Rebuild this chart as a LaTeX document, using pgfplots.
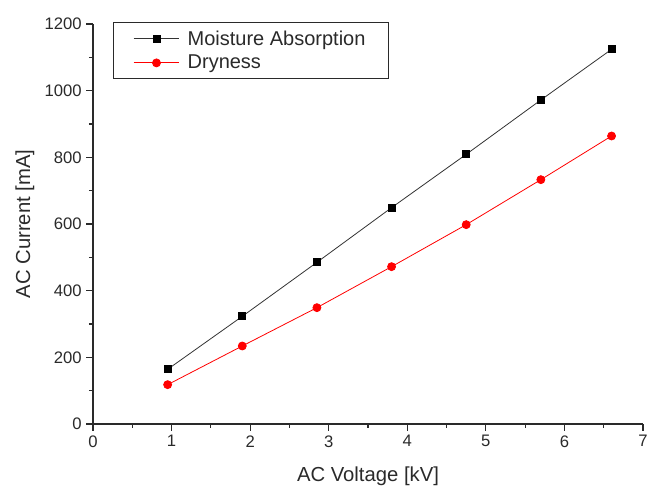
\documentclass[border=0pt]{standalone}
\usepackage{fontspec}
\setmainfont{Liberation Sans}
\usepackage{pgfplots}
\pgfplotsset{compat=1.18}
\definecolor{txt}{HTML}{2A2A2A}
\begin{document}
\begin{tikzpicture}
\begin{axis}[
  scale only axis,
  width=412.5pt, height=300pt,
  xmin=0, xmax=7, ymin=0, ymax=1200,
  axis lines*=left,
  axis line style={txt, line width=0.8pt},
  xtick={0,1,...,7}, ytick={0,200,...,1200},
  minor x tick num=1, minor y tick num=1,
  tick align=outside,
  major tick length=5pt, minor tick length=3pt,
  tick style={txt, line width=0.8pt},
  /pgf/number format/assume math mode=true,
  /pgf/number format/1000 sep={},
  ticklabel style={font=\fontsize{12.5}{14}\selectfont, text=txt},
  xlabel={AC Voltage [kV]}, ylabel={AC Current [mA]},
  label style={font=\fontsize{15.2}{18}\selectfont, text=txt},
  x label style={at={(axis description cs:0.5,-0.13)}, anchor=center},
  y label style={at={(axis description cs:-0.124,0.5)}, anchor=center},
  legend style={at={(axis description cs:0.036,1.005)}, anchor=north west,
    draw=txt, line width=0.8pt, font=\fontsize{15}{18}\selectfont, text=txt,
    inner xsep=15pt, inner ysep=4pt, row sep=2pt,
    /tikz/every odd column/.append style={column sep=4pt}},
  legend cell align=left,
  legend image code/.code={
    \draw[mark repeat=2,mark phase=2] plot coordinates {(0cm,0cm) (0.6cm,0cm) (1.2cm,0cm)};},
  clip=false,
]
\addplot[black!80, line width=0.6pt, mark=square*, mark size=2.6pt, mark options={fill=black, draw=black}]
  coordinates {(0.95,164) (1.9,323) (2.85,485) (3.8,649) (4.75,809) (5.7,972) (6.6,1124)};
\addlegendentry{Moisture Absorption}
\addplot[red, line width=0.6pt, mark=*, mark size=3pt, mark options={fill=red, draw=red}]
  coordinates {(0.95,118) (1.9,234) (2.85,349) (3.8,472) (4.75,598) (5.7,733) (6.6,864)};
\addlegendentry{Dryness}
\end{axis}
\pgfresetboundingbox
\path[use as bounding box] ([xshift=-69.75pt,yshift=-48pt]current axis.origin) rectangle ([xshift=482.25pt-69.75pt+6pt,yshift=318pt]current axis.origin);
\end{tikzpicture}
\end{document}
